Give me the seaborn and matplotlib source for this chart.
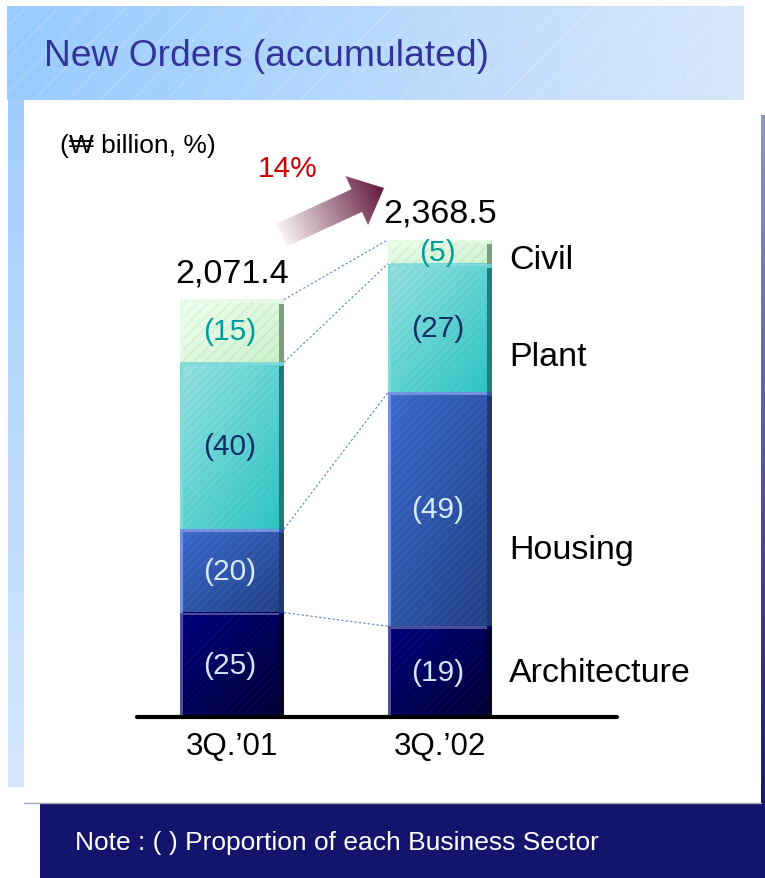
import numpy as np
import pandas as pd
import matplotlib
matplotlib.use("Agg")
import matplotlib.pyplot as plt
import seaborn as sns
from matplotlib.colors import to_rgb
from matplotlib.patches import Rectangle, Polygon

# ---- data ----
quarters = ["3Q.\u201901", "3Q.\u201902"]
totals = [2071.4, 2368.5]
sectors = ["Architecture", "Housing", "Plant", "Civil"]
share_architecture = [25, 19]
share_housing = [20, 49]
share_plant = [40, 27]
share_civil = [15, 5]
growth_label = "14%"
title_text = "New Orders (accumulated)"
unit_text = "(\u20a9 billion, %)"
note_text = "Note : ( ) Proportion of each Business Sector"

shares = {
    "Architecture": share_architecture,
    "Housing": share_housing,
    "Plant": share_plant,
    "Civil": share_civil,
}

rows = []
for qi, q in enumerate(quarters):
    base = 0.0
    for s in sectors:
        amount = totals[qi] * shares[s][qi] / 100.0
        rows.append(dict(quarter=q, sector=s, share=shares[s][qi],
                         bottom=base, top=base + amount))
        base += amount
df = pd.DataFrame(rows)

# ---- styling ----
sns.set_style("white")
plt.rcParams["font.family"] = ["Liberation Sans", "DejaVu Sans"]
plt.rcParams["text.color"] = "black"
plt.rcParams["xtick.color"] = "black"
plt.rcParams["hatch.linewidth"] = 0.6

style = {
    "Architecture": dict(base="#00005A", tl="#00007E", br="#000034", side="#00002A",
                         light="#4E4E98", text="#CFE6FF", hatch=(1, 1, 1, 0.05), pat="////"),
    "Housing": dict(base="#2E58B8", tl="#3A6ACC", br="#213E84", side="#1C3670",
                    light="#7391DC", text="#D6EBFF", hatch=(1, 1, 1, 0.09), pat="////"),
    "Plant": dict(base="#60D0D0", tl="#98E2E2", br="#2DC4C4", side="#1E7B7B",
                  light="#84DADA", text="#0E2F66", hatch=(0.1, 0.55, 0.55, 0.15), pat="////"),
    "Civil": dict(base="#DDF8DD", tl="#F0FFF0", br="#CBF2CB", side="#7E9E7E",
                  light="#E4FBE4", text="#009C9C", hatch=(0.45, 0.6, 0.45, 0.22), pat="///"),
}


def diag_gradient(c0, c1, n=48):
    a, b = np.array(to_rgb(c0)), np.array(to_rgb(c1))
    i, j = np.mgrid[0:n, 0:n] / (n - 1)
    t = ((i + j) / 2)[..., None]
    return a * (1 - t) + b * t


def lin_gradient(c0, c1, n=64, vertical=False):
    a, b = np.array(to_rgb(c0)), np.array(to_rgb(c1))
    t = np.linspace(0, 1, n)[:, None]
    g = a * (1 - t) + b * t
    return g[:, None, :] if vertical else g[None, :, :]


W, H = 765, 879
fig = plt.figure(figsize=(W / 100, H / 100), dpi=100)

# ---- page background (pixel coordinates) ----
bg = fig.add_axes([0, 0, 1, 1], zorder=0)
bg.set_xlim(0, W)
bg.set_ylim(H, 0)
bg.axis("off")

bg.imshow(lin_gradient("#99CBFF", "#D6E7FB"), extent=(7, 744, 101, 7),
          aspect="auto", interpolation="bilinear", zorder=1)
bg.add_patch(Rectangle((7, 7), 737, 94, fill=False, hatch="/",
                       edgecolor=(1, 1, 1, 0.3), linewidth=0, zorder=2))
bg.imshow(lin_gradient("#A2CEFF", "#D4E7FF", vertical=True), extent=(8, 24, 788, 101),
          aspect="auto", interpolation="bilinear", zorder=1)
bg.imshow(lin_gradient("#9494C4", "#1A1A70", vertical=True), extent=(761, 765, 805, 116),
          aspect="auto", interpolation="bilinear", zorder=1)
bg.plot([24, 761], [804, 804], color="#A8A8B8", lw=1, zorder=2)
bg.add_patch(Rectangle((40, 805), 725, 74, facecolor="#15146C", lw=0, zorder=1))

bg.text(44, 56, title_text, fontsize=26.8, color="#333399", va="center", ha="left", zorder=3)
bg.text(60, 146, unit_text, fontsize=19, color="black", va="center", ha="left", zorder=3)
bg.text(258, 169, growth_label, fontsize=21.5, color="#CC0000", va="center", ha="left", zorder=3)
bg.text(75, 843, note_text, fontsize=19, color="white", va="center", ha="left", zorder=3)

# growth arrow with a shaded fill
tail = np.array([282.0, 236.0])
tip = np.array([384.0, 189.0])
u = (tip - tail) / np.hypot(*(tip - tail))
nrm = np.array([-u[1], u[0]])
shaft_hw, head_hw, head_len = 12.5, 27.0, 30.0
neck = tip - u * head_len
arrow_pts = [tail + nrm * shaft_hw, neck + nrm * shaft_hw, neck + nrm * head_hw, tip,
             neck - nrm * head_hw, neck - nrm * shaft_hw, tail - nrm * shaft_hw]
arrow = Polygon(arrow_pts, closed=True, facecolor="none", edgecolor="none")
bg.add_patch(arrow)
ax0, ax1, ay0, ay1 = 268, 392, 168, 252
gx, gy = np.meshgrid(np.linspace(ax0, ax1, 120), np.linspace(ay0, ay1, 90))
t = ((gx - tail[0]) * u[0] + (gy - tail[1]) * u[1]) / np.hypot(*(tip - tail))
t = np.clip(t, 0, 1)[..., None]
c_tail, c_head = np.array(to_rgb("#F6F1F3")), np.array(to_rgb("#631A3C"))
arrow_img = c_tail * (1 - t) + c_head * t
im = bg.imshow(arrow_img, extent=(ax0, ax1, ay1, ay0), aspect="auto",
               interpolation="bilinear", zorder=3)
im.set_clip_path(arrow)
bg.set_xlim(0, W)
bg.set_ylim(H, 0)

# ---- chart ----
ax = fig.add_axes([137 / W, 1 - 718 / H, 480 / W, 588 / H], zorder=1)
ax.set_facecolor("none")

bar_w = 0.5
side_w = 0.024
edges = {}
for s in reversed(sectors):
    sub = df[df.sector == s]
    n0 = len(ax.patches)
    sns.barplot(data=sub, x="quarter", y="top", order=quarters, color=style[s]["base"],
                saturation=1, width=bar_w, errorbar=None, ax=ax)
    new = list(ax.patches[n0:])
    st = style[s]
    for p, (_, r) in zip(new, sub.iterrows()):
        p.set_linewidth(0)
        p.set_zorder(1)
        x0 = p.get_x()
        w = p.get_width()
        x1 = x0 + w
        edges[r.quarter] = (x0, x1)
        y0, y1 = r.bottom, r.top
        ax.imshow(diag_gradient(st["tl"], st["br"]), extent=(x0, x1, y0, y1), origin="upper",
                  aspect="auto", interpolation="bilinear", zorder=2)
        ax.bar(x0 + w / 2, y1 - y0, bottom=y0, width=w, fill=False, hatch=st["pat"],
               edgecolor=st["hatch"], linewidth=0, zorder=3)
        ax.add_patch(Rectangle((x0, y0), 0.015, y1 - y0, facecolor=st["light"], lw=0, zorder=3.5))
        ax.add_patch(Rectangle((x0, y1 - 14), w - side_w, 14, facecolor=st["light"], lw=0, zorder=3.5))
        ax.add_patch(Rectangle((x1 - side_w, y0), side_w, max(y1 - y0 - 20, 0),
                               facecolor=st["side"], lw=0, zorder=3.6))
        ax.text(x0 + (w - side_w) / 2, (y0 + y1) / 2, f"({r.share})", fontsize=21.5,
                color=st["text"], ha="center", va="center", zorder=5)

# totals above the bars
for q, tot in zip(quarters, totals):
    x0, x1 = edges[q]
    ax.annotate(f"{tot:,.1f}", xy=((x0 + x1) / 2, tot), xytext=(0, 19.5),
                textcoords="offset points", ha="center", va="center", fontsize=24.5,
                color="black", annotation_clip=False, zorder=5)

# dotted guides linking matching sector boundaries
for s in sectors:
    a = df[(df.sector == s) & (df.quarter == quarters[0])].top.iloc[0]
    b = df[(df.sector == s) & (df.quarter == quarters[1])].top.iloc[0]
    ax.plot([edges[quarters[0]][1], edges[quarters[1]][0]], [a, b],
            color="#5A7FC0", lw=0.8, ls=(0, (2, 2)), zorder=4)

# sector names to the right of the last bar
name_x = 1.332
name_y = [223, 829, 1787, 2268]
for s, yv in zip(sectors, name_y):
    ax.text(name_x, yv, s, fontsize=24.5, color="black", ha="left", va="center", zorder=5)

ax.axhline(0, color="black", lw=3, zorder=6, clip_on=False)
ax.set_xlim(-0.4567, 1.851)
ax.set_ylim(0, 2918)
ax.set_xticks(range(len(quarters)), quarters)
ax.tick_params(axis="x", length=0, pad=10, labelsize=22.5, labelcolor="black")
ax.set_yticks([])
ax.set_xlabel("")
ax.set_ylabel("")
sns.despine(ax=ax, left=True, bottom=True)

fig.savefig("out.png", dpi=100)
